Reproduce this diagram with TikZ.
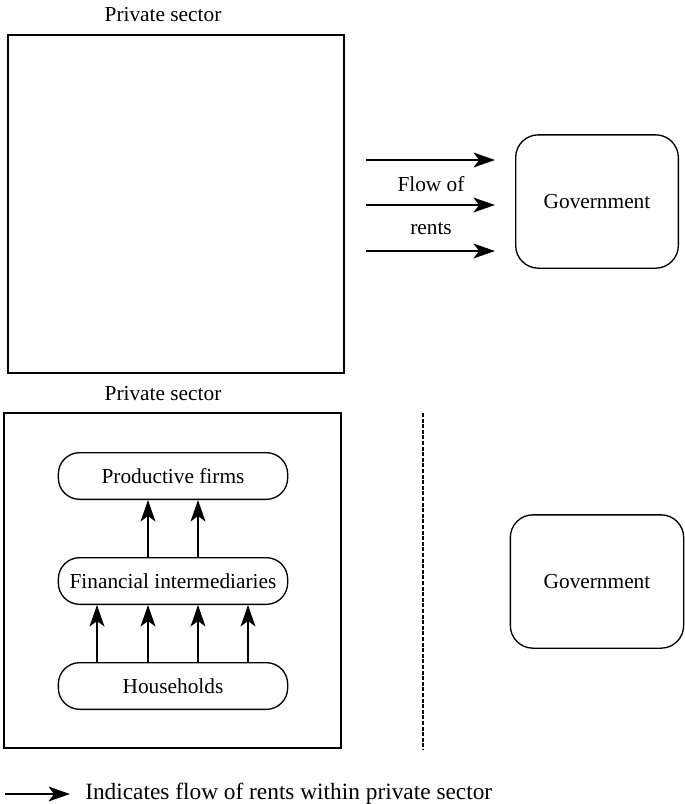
\documentclass[tikz,border=0pt]{standalone}
\usepackage{fontspec}
\setmainfont{Liberation Serif}
\usetikzlibrary{arrows.meta}
\begin{document}
\begin{tikzpicture}[x=0.75pt,y=-0.75pt,
  lbl/.style={font=\fontsize{16}{18}\selectfont, inner sep=0pt},
  pill/.style={draw, line width=1pt, rounded corners=16pt, minimum width=172pt, minimum height=35pt, font=\fontsize{16}{18}\selectfont},
  govbox/.style={draw, line width=1pt, rounded corners=17pt, font=\fontsize{16}{18}\selectfont},
  flow/.style={line width=2pt, -{Stealth[length=16pt,width=11pt,inset=4pt]}},
  frame/.style={draw, line width=1.2pt}
]
\useasboundingbox (0,0) rectangle (685,804);
% top part
\node[lbl] (ps1) at (163,15) {Private sector};
\draw[frame] (8,35) rectangle (344,373);
\coordinate (a1s) at (366,160); \coordinate (a1e) at (495,160);
\coordinate (a2s) at (366,205); \coordinate (a2e) at (495,205);
\coordinate (a3s) at (366,251); \coordinate (a3e) at (495,251);
\draw[flow] (a1s) -- (a1e);
\draw[flow] (a2s) -- (a2e);
\draw[flow] (a3s) -- (a3e);
\node[lbl] (flowof) at (431,184) {Flow of};
\node[lbl] (rents) at (431,229) {rents};
\node[govbox, minimum width=122pt, minimum height=100pt] (gov1) at (597,201.5) {Government};
% bottom part
\node[lbl] (ps2) at (163,394) {Private sector};
\draw[frame] (4,413) rectangle (341,748);
\node[pill] (pf) at (173,476) {Productive firms};
\node[pill] (fi) at (173,581) {Financial intermediaries};
\node[pill] (hh) at (173,686) {Households};
\foreach \x in {148,198} {
  \draw[flow] (fi.north -| \x,0) -- (pf.south -| \x,0);
}
\foreach \x in {97,148,198,248} {
  \draw[flow] (hh.north -| \x,0) -- (fi.south -| \x,0);
}
\coordinate (dtop) at (423,413); \coordinate (dbot) at (423,750);
\draw[line width=1.5pt, dash pattern=on 3pt off 1.2pt] (dtop) -- (dbot);
\node[govbox, minimum width=130pt, minimum height=100pt] (gov2) at (597,581.5) {Government};
% legend
\coordinate (ls) at (5,794); \coordinate (le) at (70,794);
\draw[flow] (ls) -- (le);
\node[lbl, anchor=west, font=\fontsize{17.5}{20}\selectfont] (legend) at (85,794) {Indicates flow of rents within private sector};
\end{tikzpicture}
\end{document}
